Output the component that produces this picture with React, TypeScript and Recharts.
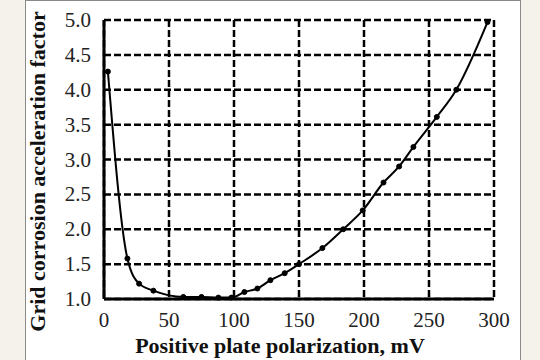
import { LineChart, Line, XAxis, YAxis, CartesianGrid, Label } from 'recharts';

const polarization = [3, 18, 27, 38, 61, 75, 88, 98, 108, 118, 128, 139, 150, 168, 184, 199, 215, 227, 238, 256, 271, 295];
const factor = [4.26, 1.58, 1.22, 1.12, 1.03, 1.03, 1.02, 1.02, 1.1, 1.15, 1.27, 1.37, 1.5, 1.73, 2.0, 2.27, 2.67, 2.9, 3.18, 3.61, 4.0, 4.97];
const xTicks = [0, 50, 100, 150, 200, 250, 300];
const yTicks = [1.0, 1.5, 2.0, 2.5, 3.0, 3.5, 4.0, 4.5, 5.0];

const data = polarization.map((mv, i) => ({ mv, factor: factor[i] }));

const serif = "'Liberation Serif', 'Times New Roman', serif";
const titleStyle = { fontFamily: serif, fontSize: 22, fontWeight: 700, fill: '#111' };
const tickText = { fontFamily: serif, fontSize: 21, fill: '#222', fontWeight: 400 };

const XTick = ({ x, y, payload }: any) => (
  <text x={x} y={y} dy={15} textAnchor="middle" style={tickText}>
    {payload.value}
  </text>
);

const YTick = ({ x, y, payload }: any) => (
  <text x={x} y={y} dy={7} textAnchor="end" style={tickText}>
    {Number(payload.value).toFixed(1)}
  </text>
);

export default function App() {
  return (
    <div style={{ position: 'fixed', left: 0, top: 0, width: 540, height: 360, background: '#f5f1eb', overflow: 'hidden', fontFamily: serif }}>
      <div style={{ position: 'absolute', left: 25, top: 0, width: 496, height: 380, background: '#fff', border: '1px solid #8a8a8a', boxSizing: 'border-box' }} />
      <div style={{ position: 'absolute', left: 0, top: 0 }}>
        <LineChart width={540} height={360} data={data} margin={{ top: 20, right: 46, bottom: 0, left: 0 }}>
          <CartesianGrid stroke="#000" strokeWidth={2.5} strokeDasharray="7 3" />
          <XAxis
            dataKey="mv"
            type="number"
            domain={[0, 300]}
            ticks={xTicks}
            height={61}
            tickLine={false}
            tickMargin={7}
            axisLine={{ stroke: '#000', strokeWidth: 3 }}
            tick={XTick}
          >
            <Label value="Positive plate polarization, mV" position="insideBottom" offset={7} dx={-19} style={titleStyle} />
          </XAxis>
          <YAxis
            type="number"
            domain={[1, 5]}
            ticks={yTicks}
            width={104}
            tickLine={false}
            tickMargin={7}
            axisLine={{ stroke: '#000', strokeWidth: 3 }}
            tick={YTick}
          >
            <Label value="Grid corrosion acceleration factor" angle={-90} position="center" dx={-15} dy={12} style={titleStyle} />
          </YAxis>
          <Line
            type="monotone"
            dataKey="factor"
            stroke="#000"
            strokeWidth={2}
            dot={{ r: 2.5, fill: '#000', stroke: '#000', strokeWidth: 1 }}
            isAnimationActive={false}
          />
        </LineChart>
      </div>
    </div>
  );
}
